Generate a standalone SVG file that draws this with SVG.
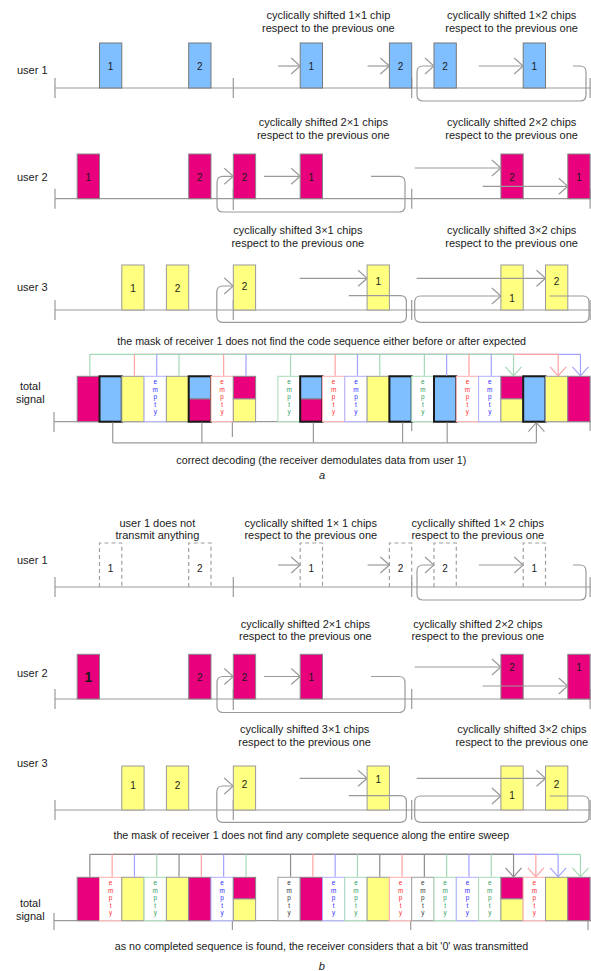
<svg xmlns="http://www.w3.org/2000/svg" width="591" height="971" viewBox="0 0 591 971">
<defs>
<style>
text{font-family:"Liberation Sans",Arial,Helvetica,sans-serif;fill:#1a1a1a}
.cap{font-size:11px;text-anchor:middle}
.lab{font-size:11px}
.note{font-size:10.7px;text-anchor:middle}
.ts{font-size:11px;text-anchor:middle}
.n{font-size:10px;text-anchor:middle}
.big{font-size:14px;font-weight:bold;text-anchor:middle}
.fig{font-size:11px;font-style:italic;text-anchor:middle}
.ax{stroke:#9a9a9a;stroke-width:1.2;fill:none}
.cb{fill:#80bfff;stroke:#777;stroke-width:1}
.cp{fill:#e8007d;stroke:#888;stroke-width:1}
.cy{fill:#ffff80;stroke:#999;stroke-width:1}
.cd{fill:none;stroke:#a0a0a0;stroke-width:1.2;stroke-dasharray:4 3}
.thick{fill:none;stroke:#1a1a1a;stroke-width:2}
.ar{fill:none;stroke:#9a9a9a;stroke-width:1.2;marker-end:url(#mk)}
.lg{fill:none;stroke:#a3d9b5;stroke-width:1.2}
.lr{fill:none;stroke:#ffa3a3;stroke-width:1.2}
.lb{fill:none;stroke:#a3a3ff;stroke-width:1.2}
.lk{fill:none;stroke:#8c8c8c;stroke-width:1.2}
.vg{fill:none;stroke:#a3d9b5;stroke-width:1.2;marker-end:url(#mg)}
.vr{fill:none;stroke:#ffa3a3;stroke-width:1.2;marker-end:url(#mr)}
.vb{fill:none;stroke:#a3a3ff;stroke-width:1.2;marker-end:url(#mb)}
.vk{fill:none;stroke:#8c8c8c;stroke-width:1.2;marker-end:url(#mkk)}
.e text{font-size:6.4px;text-anchor:middle}
.er rect{fill:#fff;stroke:#ffb0b0}
.er text{fill:#ff2d2d}
.eb rect{fill:#fff;stroke:#b0b0ff}
.eb text{fill:#2d2dff}
.eg rect{fill:#fff;stroke:#a8dcb8}
.eg text{fill:#2f9e5f}
.ek rect{fill:#fff;stroke:#a0a0a0}
.ek text{fill:#333}
</style>
<marker id="mk" viewBox="0 0 10 18" refX="10" refY="9" markerWidth="10" markerHeight="18" markerUnits="userSpaceOnUse" orient="auto"><path d="M1,1L10,9L1,17" fill="none" stroke="#9a9a9a" stroke-width="1.2"/></marker>
<marker id="mg" viewBox="0 0 10 18" refX="10" refY="9" markerWidth="10" markerHeight="18" markerUnits="userSpaceOnUse" orient="auto"><path d="M1,1L10,9L1,17" fill="none" stroke="#a3d9b5" stroke-width="1.2"/></marker>
<marker id="mr" viewBox="0 0 10 18" refX="10" refY="9" markerWidth="10" markerHeight="18" markerUnits="userSpaceOnUse" orient="auto"><path d="M1,1L10,9L1,17" fill="none" stroke="#ffa3a3" stroke-width="1.2"/></marker>
<marker id="mb" viewBox="0 0 10 18" refX="10" refY="9" markerWidth="10" markerHeight="18" markerUnits="userSpaceOnUse" orient="auto"><path d="M1,1L10,9L1,17" fill="none" stroke="#a3a3ff" stroke-width="1.2"/></marker>
<marker id="mkk" viewBox="0 0 10 18" refX="10" refY="9" markerWidth="10" markerHeight="18" markerUnits="userSpaceOnUse" orient="auto"><path d="M1,1L10,9L1,17" fill="none" stroke="#8c8c8c" stroke-width="1.2"/></marker>
</defs>
<rect width="591" height="971" fill="#fff"/>

<!-- ===== a : user 1 ===== -->
<g id="a-user1">
<text class="lab" x="17" y="74">user 1</text>
<text class="cap" x="328.4" y="19">cyclically shifted 1×1 chip</text>
<text class="cap" x="328.4" y="31.5">respect to the previous one</text>
<text class="cap" x="511.6" y="19">cyclically shifted 1×2 chips</text>
<text class="cap" x="511.6" y="31.5">respect to the previous one</text>
<path class="ax" d="M55,88H591M55,78V98M233.3,78V98M411.7,78V98M590.1,78V98"/>
<rect class="cb" x="99.5" y="43" width="22.3" height="45"/><text class="n" x="110.65" y="70">1</text>
<rect class="cb" x="188.7" y="43" width="22.3" height="45"/><text class="n" x="199.85" y="70">2</text>
<rect class="cb" x="300.2" y="43" width="22.3" height="45"/><text class="n" x="311.35" y="70">1</text>
<rect class="cb" x="389.4" y="43" width="22.3" height="45"/><text class="n" x="400.55" y="70">2</text>
<rect class="cb" x="434" y="43" width="22.3" height="45"/><text class="n" x="445.15" y="70">2</text>
<rect class="cb" x="523.2" y="43" width="22.3" height="45"/><text class="n" x="534.35" y="70">1</text>
</g>

<!-- ===== a : user 2 ===== -->
<g id="a-user2">
<text class="lab" x="17" y="180.5">user 2</text>
<text class="cap" x="323.3" y="126">cyclically shifted 2×1 chips</text>
<text class="cap" x="323.3" y="138.5">respect to the previous one</text>
<text class="cap" x="511.6" y="126">cyclically shifted 2×2 chips</text>
<text class="cap" x="511.6" y="138.5">respect to the previous one</text>
<path class="ax" d="M55,198.7H591M55,188.7V208.7M233.3,188.7V210M411.7,188.7V208.7M590.1,188.7V208.7"/>
<rect class="cp" x="77.2" y="154" width="22.3" height="44.7"/><text class="n" x="88.35" y="180.5">1</text>
<rect class="cp" x="188.7" y="154" width="22.3" height="44.7"/><text class="n" x="199.85" y="180.5">2</text>
<rect class="cp" x="233.3" y="154" width="22.3" height="44.7"/><text class="n" x="244.45" y="180.5">2</text>
<rect class="cp" x="300.2" y="154" width="22.3" height="44.7"/><text class="n" x="311.35" y="180.5">1</text>
<rect class="cp" x="500.9" y="154" width="22.3" height="44.7"/><text class="n" x="512.05" y="180.5">2</text>
<rect class="cp" x="567.8" y="154" width="22.3" height="44.7"/><text class="n" x="578.95" y="180.5">1</text>
</g>

<!-- ===== a : user 3 ===== -->
<g id="a-user3">
<text class="lab" x="17" y="290.5">user 3</text>
<text class="cap" x="297.8" y="233.5">cyclically shifted 3×1 chips</text>
<text class="cap" x="297.8" y="246.5">respect to the previous one</text>
<text class="cap" x="511.6" y="233.5">cyclically shifted 3×2 chips</text>
<text class="cap" x="511.6" y="246.5">respect to the previous one</text>
<path class="ax" d="M55,310H591M55,300V320M233.3,300V320M411.7,300V320M590.1,300V320"/>
<rect class="cy" x="121.8" y="265" width="22.3" height="45"/><text class="n" x="132.95" y="291.5">1</text>
<rect class="cy" x="166.4" y="265" width="22.3" height="45"/><text class="n" x="177.55" y="291.5">2</text>
<rect class="cy" x="233.3" y="265" width="22.3" height="45"/><text class="n" x="244.45" y="290">2</text>
<rect class="cy" x="367.1" y="265" width="22.3" height="45"/><text class="n" x="378.25" y="285">1</text>
<rect class="cy" x="500.9" y="265" width="22.3" height="45"/><text class="n" x="512.05" y="301.5">1</text>
<rect class="cy" x="545.5" y="265" width="22.3" height="45"/><text class="n" x="556.65" y="284.5">2</text>
</g>

<!-- ===== a : total signal ===== -->
<g id="a-total">
<text class="note" x="321.7" y="344.5">the mask of receiver 1 does not find the code sequence either before or after expected</text>
<text class="ts" x="30.3" y="390">total</text>
<text class="ts" x="30.3" y="403">signal</text>
<path class="ax" d="M54,421.7H591M54,412V432M232.4,421.7V437M411.7,421.7V431M590.1,421.7V431"/>
<rect class="cp" x="77.2" y="376.3" width="22.3" height="45.4"/>
<rect class="cb" x="99.5" y="376.3" width="22.3" height="45.4"/><rect class="thick" x="99.5" y="376.3" width="22.3" height="45.4"/>
<rect class="cy" x="121.8" y="376.3" width="22.3" height="45.4"/>
<g class="e eb"><rect x="144.1" y="376.3" width="22.3" height="45.4"/><text x="155.25" y="384.3">e<tspan x="155.25" dy="7.5">m</tspan><tspan x="155.25" dy="7.5">p</tspan><tspan x="155.25" dy="7.5">t</tspan><tspan x="155.25" dy="7.5">y</tspan></text></g>
<rect class="cy" x="166.4" y="376.3" width="22.3" height="45.4"/>
<rect class="cb" x="188.7" y="376.3" width="22.3" height="22.7"/><rect class="cp" x="188.7" y="399" width="22.3" height="22.7"/><rect class="thick" x="188.7" y="376.3" width="22.3" height="45.4"/>
<g class="e er"><rect x="211" y="376.3" width="22.3" height="45.4"/><text x="222.15" y="384.3">e<tspan x="222.15" dy="7.5">m</tspan><tspan x="222.15" dy="7.5">p</tspan><tspan x="222.15" dy="7.5">t</tspan><tspan x="222.15" dy="7.5">y</tspan></text></g>
<rect class="cp" x="233.3" y="376.3" width="22.3" height="22.7"/><rect class="cy" x="233.3" y="399" width="22.3" height="22.7"/>
<g class="e eg"><rect x="277.9" y="376.3" width="22.3" height="45.4"/><text x="289.05" y="384.3">e<tspan x="289.05" dy="7.5">m</tspan><tspan x="289.05" dy="7.5">p</tspan><tspan x="289.05" dy="7.5">t</tspan><tspan x="289.05" dy="7.5">y</tspan></text></g>
<rect class="cb" x="300.2" y="376.3" width="22.3" height="22.7"/><rect class="cp" x="300.2" y="399" width="22.3" height="22.7"/><rect class="thick" x="300.2" y="376.3" width="22.3" height="45.4"/>
<g class="e er"><rect x="322.5" y="376.3" width="22.3" height="45.4"/><text x="333.65" y="384.3">e<tspan x="333.65" dy="7.5">m</tspan><tspan x="333.65" dy="7.5">p</tspan><tspan x="333.65" dy="7.5">t</tspan><tspan x="333.65" dy="7.5">y</tspan></text></g>
<g class="e eb"><rect x="344.8" y="376.3" width="22.3" height="45.4"/><text x="355.95" y="384.3">e<tspan x="355.95" dy="7.5">m</tspan><tspan x="355.95" dy="7.5">p</tspan><tspan x="355.95" dy="7.5">t</tspan><tspan x="355.95" dy="7.5">y</tspan></text></g>
<rect class="cy" x="367.1" y="376.3" width="22.3" height="45.4"/>
<rect class="cb" x="389.4" y="376.3" width="22.3" height="45.4"/><rect class="thick" x="389.4" y="376.3" width="22.3" height="45.4"/>
<g class="e eg"><rect x="411.7" y="376.3" width="22.3" height="45.4"/><text x="422.85" y="384.3">e<tspan x="422.85" dy="7.5">m</tspan><tspan x="422.85" dy="7.5">p</tspan><tspan x="422.85" dy="7.5">t</tspan><tspan x="422.85" dy="7.5">y</tspan></text></g>
<rect class="cb" x="434" y="376.3" width="22.3" height="45.4"/><rect class="thick" x="434" y="376.3" width="22.3" height="45.4"/>
<g class="e er"><rect x="456.3" y="376.3" width="22.3" height="45.4"/><text x="467.45" y="384.3">e<tspan x="467.45" dy="7.5">m</tspan><tspan x="467.45" dy="7.5">p</tspan><tspan x="467.45" dy="7.5">t</tspan><tspan x="467.45" dy="7.5">y</tspan></text></g>
<g class="e eb"><rect x="478.6" y="376.3" width="22.3" height="45.4"/><text x="489.75" y="384.3">e<tspan x="489.75" dy="7.5">m</tspan><tspan x="489.75" dy="7.5">p</tspan><tspan x="489.75" dy="7.5">t</tspan><tspan x="489.75" dy="7.5">y</tspan></text></g>
<rect class="cp" x="500.9" y="376.3" width="22.3" height="22.7"/><rect class="cy" x="500.9" y="399" width="22.3" height="22.7"/>
<rect class="cb" x="523.2" y="376.3" width="22.3" height="45.4"/><rect class="thick" x="523.2" y="376.3" width="22.3" height="45.4"/>
<rect class="cy" x="545.5" y="376.3" width="22.3" height="45.4"/>
<rect class="cp" x="567.8" y="376.3" width="22.3" height="45.4"/>
<text class="note" x="321.3" y="464">correct decoding (the receiver demodulates data from user 1)</text>
<text class="fig" x="322" y="479">a</text>
</g>

<!-- ===== b : user 1 ===== -->
<g id="b-user1">
<text class="lab" x="17" y="564">user 1</text>
<text class="cap" x="157.4" y="526.5">user 1 does not</text>
<text class="cap" x="157.4" y="538.5">transmit anything</text>
<text class="cap" x="310.8" y="526.5">cyclically shifted 1× 1 chips</text>
<text class="cap" x="310.8" y="538.5">respect to the previous one</text>
<text class="cap" x="477.8" y="526.5">cyclically shifted 1× 2 chips</text>
<text class="cap" x="477.8" y="538.5">respect to the previous one</text>
<path class="ax" d="M55,587H591M55,577V597M233.3,577V597M411.7,577V597M590.1,577V597"/>
<path class="cd" d="M99.5,587V543H121.8V587"/><text class="n" x="110.65" y="572">1</text>
<path class="cd" d="M188.7,587V543H211V587"/><text class="n" x="199.85" y="572">2</text>
<path class="cd" d="M300.2,587V543H322.5V587"/><text class="n" x="311.35" y="572">1</text>
<path class="cd" d="M389.4,587V543H411.7V587"/><text class="n" x="400.55" y="572">2</text>
<path class="cd" d="M434,587V543H456.3V587"/><text class="n" x="445.15" y="572">2</text>
<path class="cd" d="M523.2,587V543H545.5V587"/><text class="n" x="534.35" y="572">1</text>
</g>

<!-- ===== b : user 2 ===== -->
<g id="b-user2">
<text class="lab" x="17" y="677">user 2</text>
<text class="cap" x="305.4" y="628">cyclically shifted 2×1 chips</text>
<text class="cap" x="305.4" y="640">respect to the previous one</text>
<text class="cap" x="477.8" y="628">cyclically shifted 2×2 chips</text>
<text class="cap" x="477.8" y="640">respect to the previous one</text>
<path class="ax" d="M55,699H591M55,689V709M233.3,689V710M411.7,689V709M590.1,689V709"/>
<rect class="cp" x="77.2" y="654.3" width="22.3" height="44.7"/><text class="big" x="88.35" y="682">1</text>
<rect class="cp" x="188.7" y="654.3" width="22.3" height="44.7"/><text class="n" x="199.85" y="681">2</text>
<rect class="cp" x="233.3" y="654.3" width="22.3" height="44.7"/><text class="n" x="244.45" y="681">2</text>
<rect class="cp" x="300.2" y="654.3" width="22.3" height="44.7"/><text class="n" x="311.35" y="681">1</text>
<rect class="cp" x="500.9" y="654.3" width="22.3" height="44.7"/><text class="n" x="512.05" y="670.5">2</text>
<rect class="cp" x="567.8" y="654.3" width="22.3" height="44.7"/><text class="n" x="578.95" y="670.5">1</text>
</g>

<!-- ===== b : user 3 ===== -->
<g id="b-user3">
<text class="lab" x="17" y="766.5">user 3</text>
<text class="cap" x="304.6" y="733">cyclically shifted 3×1 chips</text>
<text class="cap" x="304.6" y="746">respect to the previous one</text>
<text class="cap" x="521.8" y="733">cyclically shifted 3×2 chips</text>
<text class="cap" x="521.8" y="746">respect to the previous one</text>
<path class="ax" d="M55,810H591M55,800V820M233.3,800V820M411.7,800V820M590.1,800V820"/>
<rect class="cy" x="121.8" y="766" width="22.3" height="44"/><text class="n" x="132.95" y="789">1</text>
<rect class="cy" x="166.4" y="766" width="22.3" height="44"/><text class="n" x="177.55" y="789">2</text>
<rect class="cy" x="233.3" y="766" width="22.3" height="44"/><text class="n" x="244.45" y="788">2</text>
<rect class="cy" x="367.1" y="766" width="22.3" height="44"/><text class="n" x="378.25" y="783">1</text>
<rect class="cy" x="500.9" y="766" width="22.3" height="44"/><text class="n" x="512.05" y="799">1</text>
<rect class="cy" x="545.5" y="766" width="22.3" height="44"/><text class="n" x="556.65" y="788">2</text>
</g>

<!-- ===== b : total signal ===== -->
<g id="b-total">
<text class="note" x="311.3" y="839">the mask of receiver 1 does not find any complete sequence along the entire sweep</text>
<text class="ts" x="30.3" y="906.5">total</text>
<text class="ts" x="30.3" y="920">signal</text>
<path class="ax" d="M54,920.7H591M54,913V930M232.4,920.7V930M410.7,920.7V930M588,920.7V930"/>
<rect class="cp" x="77.2" y="877.3" width="22.3" height="43.4"/>
<g class="e er"><rect x="99.5" y="877.3" width="22.3" height="43.4"/><text x="110.65" y="885">e<tspan x="110.65" dy="7.5">m</tspan><tspan x="110.65" dy="7.5">p</tspan><tspan x="110.65" dy="7.5">t</tspan><tspan x="110.65" dy="7.5">y</tspan></text></g>
<rect class="cy" x="121.8" y="877.3" width="22.3" height="43.4"/>
<g class="e eg"><rect x="144.1" y="877.3" width="22.3" height="43.4"/><text x="155.25" y="885">e<tspan x="155.25" dy="7.5">m</tspan><tspan x="155.25" dy="7.5">p</tspan><tspan x="155.25" dy="7.5">t</tspan><tspan x="155.25" dy="7.5">y</tspan></text></g>
<rect class="cy" x="166.4" y="877.3" width="22.3" height="43.4"/>
<rect class="cp" x="188.7" y="877.3" width="22.3" height="43.4"/>
<g class="e eb"><rect x="211" y="877.3" width="22.3" height="43.4"/><text x="222.15" y="885">e<tspan x="222.15" dy="7.5">m</tspan><tspan x="222.15" dy="7.5">p</tspan><tspan x="222.15" dy="7.5">t</tspan><tspan x="222.15" dy="7.5">y</tspan></text></g>
<rect class="cp" x="233.3" y="877.3" width="22.3" height="21.7"/><rect class="cy" x="233.3" y="899" width="22.3" height="21.7"/>
<g class="e ek"><rect x="277.9" y="877.3" width="22.3" height="43.4"/><text x="289.05" y="885">e<tspan x="289.05" dy="7.5">m</tspan><tspan x="289.05" dy="7.5">p</tspan><tspan x="289.05" dy="7.5">t</tspan><tspan x="289.05" dy="7.5">y</tspan></text></g>
<rect class="cp" x="300.2" y="877.3" width="22.3" height="43.4"/>
<g class="e eb"><rect x="322.5" y="877.3" width="22.3" height="43.4"/><text x="333.65" y="885">e<tspan x="333.65" dy="7.5">m</tspan><tspan x="333.65" dy="7.5">p</tspan><tspan x="333.65" dy="7.5">t</tspan><tspan x="333.65" dy="7.5">y</tspan></text></g>
<g class="e eg"><rect x="344.8" y="877.3" width="22.3" height="43.4"/><text x="355.95" y="885">e<tspan x="355.95" dy="7.5">m</tspan><tspan x="355.95" dy="7.5">p</tspan><tspan x="355.95" dy="7.5">t</tspan><tspan x="355.95" dy="7.5">y</tspan></text></g>
<rect class="cy" x="367.1" y="877.3" width="22.3" height="43.4"/>
<g class="e er"><rect x="389.4" y="877.3" width="22.3" height="43.4"/><text x="400.55" y="885">e<tspan x="400.55" dy="7.5">m</tspan><tspan x="400.55" dy="7.5">p</tspan><tspan x="400.55" dy="7.5">t</tspan><tspan x="400.55" dy="7.5">y</tspan></text></g>
<g class="e ek"><rect x="411.7" y="877.3" width="22.3" height="43.4"/><text x="422.85" y="885">e<tspan x="422.85" dy="7.5">m</tspan><tspan x="422.85" dy="7.5">p</tspan><tspan x="422.85" dy="7.5">t</tspan><tspan x="422.85" dy="7.5">y</tspan></text></g>
<g class="e eg"><rect x="434" y="877.3" width="22.3" height="43.4"/><text x="445.15" y="885">e<tspan x="445.15" dy="7.5">m</tspan><tspan x="445.15" dy="7.5">p</tspan><tspan x="445.15" dy="7.5">t</tspan><tspan x="445.15" dy="7.5">y</tspan></text></g>
<g class="e eb"><rect x="456.3" y="877.3" width="22.3" height="43.4"/><text x="467.45" y="885">e<tspan x="467.45" dy="7.5">m</tspan><tspan x="467.45" dy="7.5">p</tspan><tspan x="467.45" dy="7.5">t</tspan><tspan x="467.45" dy="7.5">y</tspan></text></g>
<g class="e eg"><rect x="478.6" y="877.3" width="22.3" height="43.4"/><text x="489.75" y="885">e<tspan x="489.75" dy="7.5">m</tspan><tspan x="489.75" dy="7.5">p</tspan><tspan x="489.75" dy="7.5">t</tspan><tspan x="489.75" dy="7.5">y</tspan></text></g>
<rect class="cp" x="500.9" y="877.3" width="22.3" height="21.7"/><rect class="cy" x="500.9" y="899" width="22.3" height="21.7"/>
<g class="e er"><rect x="523.2" y="877.3" width="22.3" height="43.4"/><text x="534.35" y="885">e<tspan x="534.35" dy="7.5">m</tspan><tspan x="534.35" dy="7.5">p</tspan><tspan x="534.35" dy="7.5">t</tspan><tspan x="534.35" dy="7.5">y</tspan></text></g>
<rect class="cy" x="545.5" y="877.3" width="22.3" height="43.4"/>
<rect class="cp" x="567.8" y="877.3" width="22.3" height="43.4"/>
<text class="note" x="321.5" y="950">as no completed sequence is found, the receiver considers that a bit '0' was transmitted</text>
<text class="fig" x="321.7" y="970">b</text>
</g>

<!-- ===== connectors ===== -->
<g id="connectors">
<path class="ar" d="M278,66H300.2"/>
<path class="ar" d="M367.6,66H389.4"/>
<path class="ar" d="M478.8,66H523.2"/>
<path class="ar" d="M573,66H580Q586,66 586,72V95Q586,101 580,101H423Q417,101 417,95V72Q417,66 423,66H434"/>

<path class="ar" d="M371,176.3H399Q405,176.3 405,182.3V206Q405,212 399,212H223Q217,212 217,206V182.3Q217,176.3 223,176.3H233.3"/>
<path class="ar" d="M264,176.3H300.2"/>
<path class="ar" d="M414.7,168H500.9"/>
<path class="ar" d="M482.6,186.3H567.8"/>

<path class="ar" d="M348.7,295.7H400.4Q406.4,295.7 406.4,301.7V316.3Q406.4,322.3 400.4,322.3H222.8Q216.8,322.3 216.8,316.3V292Q216.8,286 222.8,286H233.3"/>
<path class="ar" d="M299.7,278.3H367.1"/>
<path class="ar" d="M416.6,278.3H545.5"/>
<path class="ar" d="M549.7,296H583Q589,296 589,302V316.3Q589,322.3 583,322.3H420.7Q414.7,322.3 414.7,316.3V302Q414.7,296 420.7,296H500.9"/>

<path class="lb" d="M156.75,354.3H580.45"/>
<path class="lr" d="M134.45,354.3H558.15"/>
<path class="lg" d="M89.85,354.3H513.55"/>
<path class="vg" d="M89.85,354.3V375.8M179.05,354.3V375.8M290.55,354.3V375.8M379.75,354.3V375.8M424.35,354.3V375.8M513.55,354.3V375.8"/>
<path class="vr" d="M134.45,354.3V375.8M223.65,354.3V375.8M335.15,354.3V375.8M468.95,354.3V375.8M558.15,354.3V375.8"/>
<path class="vb" d="M156.75,354.3V375.8M246,354.3V375.8M357.45,354.3V375.8M446.65,354.3V375.8M491.25,354.3V375.8M580.45,354.3V375.8"/>
<path class="ax" d="M112.7,442.8H536.4"/>
<path class="ar" d="M112.7,442.8V422.6M201.9,442.8V422.6M313.4,442.8V422.6M402.6,442.8V422.6M447.2,442.8V422.6M536.4,442.8V422.6"/>

<path class="ar" d="M278,565H300.2"/>
<path class="ar" d="M367.6,565H389.4"/>
<path class="ar" d="M478.8,565H523.2"/>
<path class="ar" d="M573,565H580Q586,565 586,571V594Q586,600 580,600H423Q417,600 417,594V571Q417,565 423,565H434"/>

<path class="ar" d="M371,676.5H399Q405,676.5 405,682.5V706.5Q405,712.5 399,712.5H223Q217,712.5 217,706.5V682.5Q217,676.5 223,676.5H233.3"/>
<path class="ar" d="M264,676.5H300.2"/>
<path class="ar" d="M414.7,667H500.9"/>
<path class="ar" d="M482.6,686H567.8"/>

<path class="ar" d="M348.7,795.7H400.4Q406.4,795.7 406.4,801.7V816.3Q406.4,822.3 400.4,822.3H222.8Q216.8,822.3 216.8,816.3V792Q216.8,786 222.8,786H233.3"/>
<path class="ar" d="M299.7,778.3H367.1"/>
<path class="ar" d="M416.6,778.3H545.5"/>
<path class="ar" d="M549.7,796H583Q589,796 589,802V816.3Q589,822.3 583,822.3H420.7Q414.7,822.3 414.7,816.3V802Q414.7,796 420.7,796H500.9"/>

<path class="lg" d="M156.75,854.3H580.45"/>
<path class="lr" d="M112.15,854.3H535.85"/>
<path class="lb" d="M134.45,854.3H558.15"/>
<path class="lk" d="M89.85,854.3H513.55"/>
<path class="vk" d="M89.85,854.3V876.8M179.05,854.3V876.8M290.55,854.3V876.8M379.75,854.3V876.8M424.35,854.3V876.8M513.55,854.3V876.8"/>
<path class="vr" d="M112.15,854.3V876.8M201.35,854.3V876.8M312.85,854.3V876.8M402.05,854.3V876.8M535.85,854.3V876.8"/>
<path class="vb" d="M134.45,854.3V876.8M223.65,854.3V876.8M335.15,854.3V876.8M468.95,854.3V876.8M558.15,854.3V876.8"/>
<path class="vg" d="M156.75,854.3V876.8M246,854.3V876.8M357.45,854.3V876.8M446.65,854.3V876.8M491.25,854.3V876.8M580.45,854.3V876.8"/>
</g>
</svg>
